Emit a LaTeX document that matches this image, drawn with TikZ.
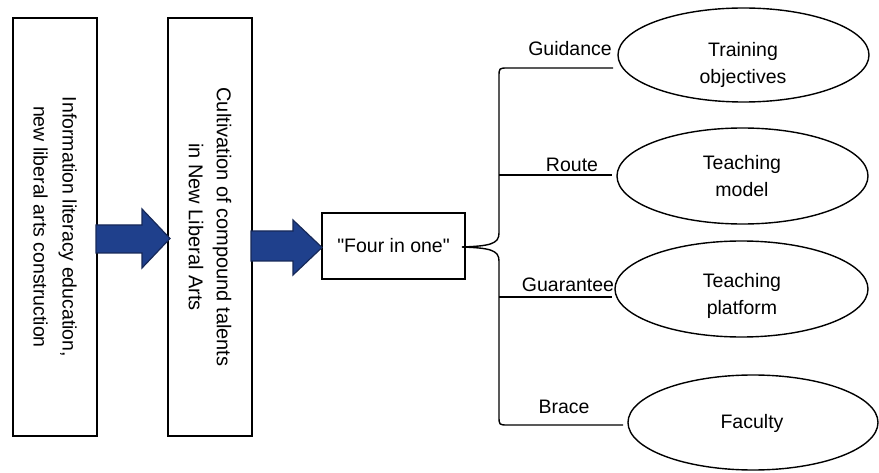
\documentclass[tikz,border=0pt]{standalone}
\usepackage{fontspec}
\setmainfont{Liberation Sans}[Ligatures=TeXOff]
\usetikzlibrary{shapes.geometric}
\definecolor{arrowfill}{RGB}{31,64,140}
\definecolor{arrowline}{RGB}{22,40,88}
\tikzset{
  box/.style={draw, line width=1.4pt, inner sep=0pt, align=center},
  oval/.style={draw, ellipse, line width=1.4pt, inner sep=0pt},
  txt/.style={inner sep=0pt, align=center},
  blockarrow/.style={fill=arrowfill, draw=arrowline, line width=1.2pt, line join=miter},
  link/.style={line width=1.4pt},
}
\begin{document}
\begin{tikzpicture}[x=1pt, y=-1pt, font=\fontsize{19.5}{27}\selectfont]
\useasboundingbox (0,0) rectangle (879,473);

% vertical boxes
\node[box, rotate=-90, minimum width=418, minimum height=84,
      font=\fontsize{19.5}{29}\selectfont] (b1) at (55,227)
  {Information literacy education,\\new liberal arts construction};
\node[box, rotate=-90, minimum width=418, minimum height=84,
      font=\fontsize{20}{28}\selectfont] (b2) at (210,227)
  {Cultivation of compound talents\\in New Liberal Arts};
\node[box, minimum width=143, minimum height=66] (four) at (393.5,246)
  {"Four in one"};

% block arrows
\filldraw[blockarrow] (96,225) -- (142,225) -- (142,209) -- (170,238.5) -- (142,268)
  -- (142,253) -- (96,253) -- cycle;
\filldraw[blockarrow] (251,231) -- (293,231) -- (293,220) -- (322,247.5) -- (293,275)
  -- (293,261) -- (251,261) -- cycle;

% ellipses
\node[oval, minimum width=251, minimum height=94] (e1) at (743.5,55) {};
\node[oval, minimum width=251, minimum height=96] (e2) at (742.5,176) {};
\node[oval, minimum width=253, minimum height=96] (e3) at (741.5,289) {};
\node[oval, minimum width=250, minimum height=95] (e4) at (753,422.5) {};
\node[txt] (t1) at (743,65) {Training\\objectives};
\node[txt] (t2) at (742,176.5) {Teaching\\model};
\node[txt] (t3) at (742,296) {Teaching\\platform};
\node[txt] (t4) at (752,423) {Faculty};

% brace and branches
\coordinate (tip) at (462,247);
\coordinate (g) at (613,68);
\coordinate (r) at (612,175);
\coordinate (q) at (612,297);
\coordinate (f) at (623,425);
\coordinate (rb) at (499,175);
\coordinate (qb) at (499,297);
\draw[link] (g) -- (508,68) .. controls (499,68) .. (499,77) -- (499,233)
  .. controls (499,244) and (490,246) .. (tip);
\draw[link] (tip) .. controls (490,248) and (499,250) .. (499,261) -- (499,416)
  .. controls (499,425) .. (508,425) -- (f);
\draw[link] (rb) -- (r);
\draw[link] (qb) -- (q);

% branch labels
\node[txt] (lg) at (570,48.5) {Guidance};
\node[txt] (lr) at (572,165) {Route};
\node[txt] (lq) at (568,285) {Guarantee};
\node[txt] (lf) at (564,407) {Brace};
\end{tikzpicture}
\end{document}
